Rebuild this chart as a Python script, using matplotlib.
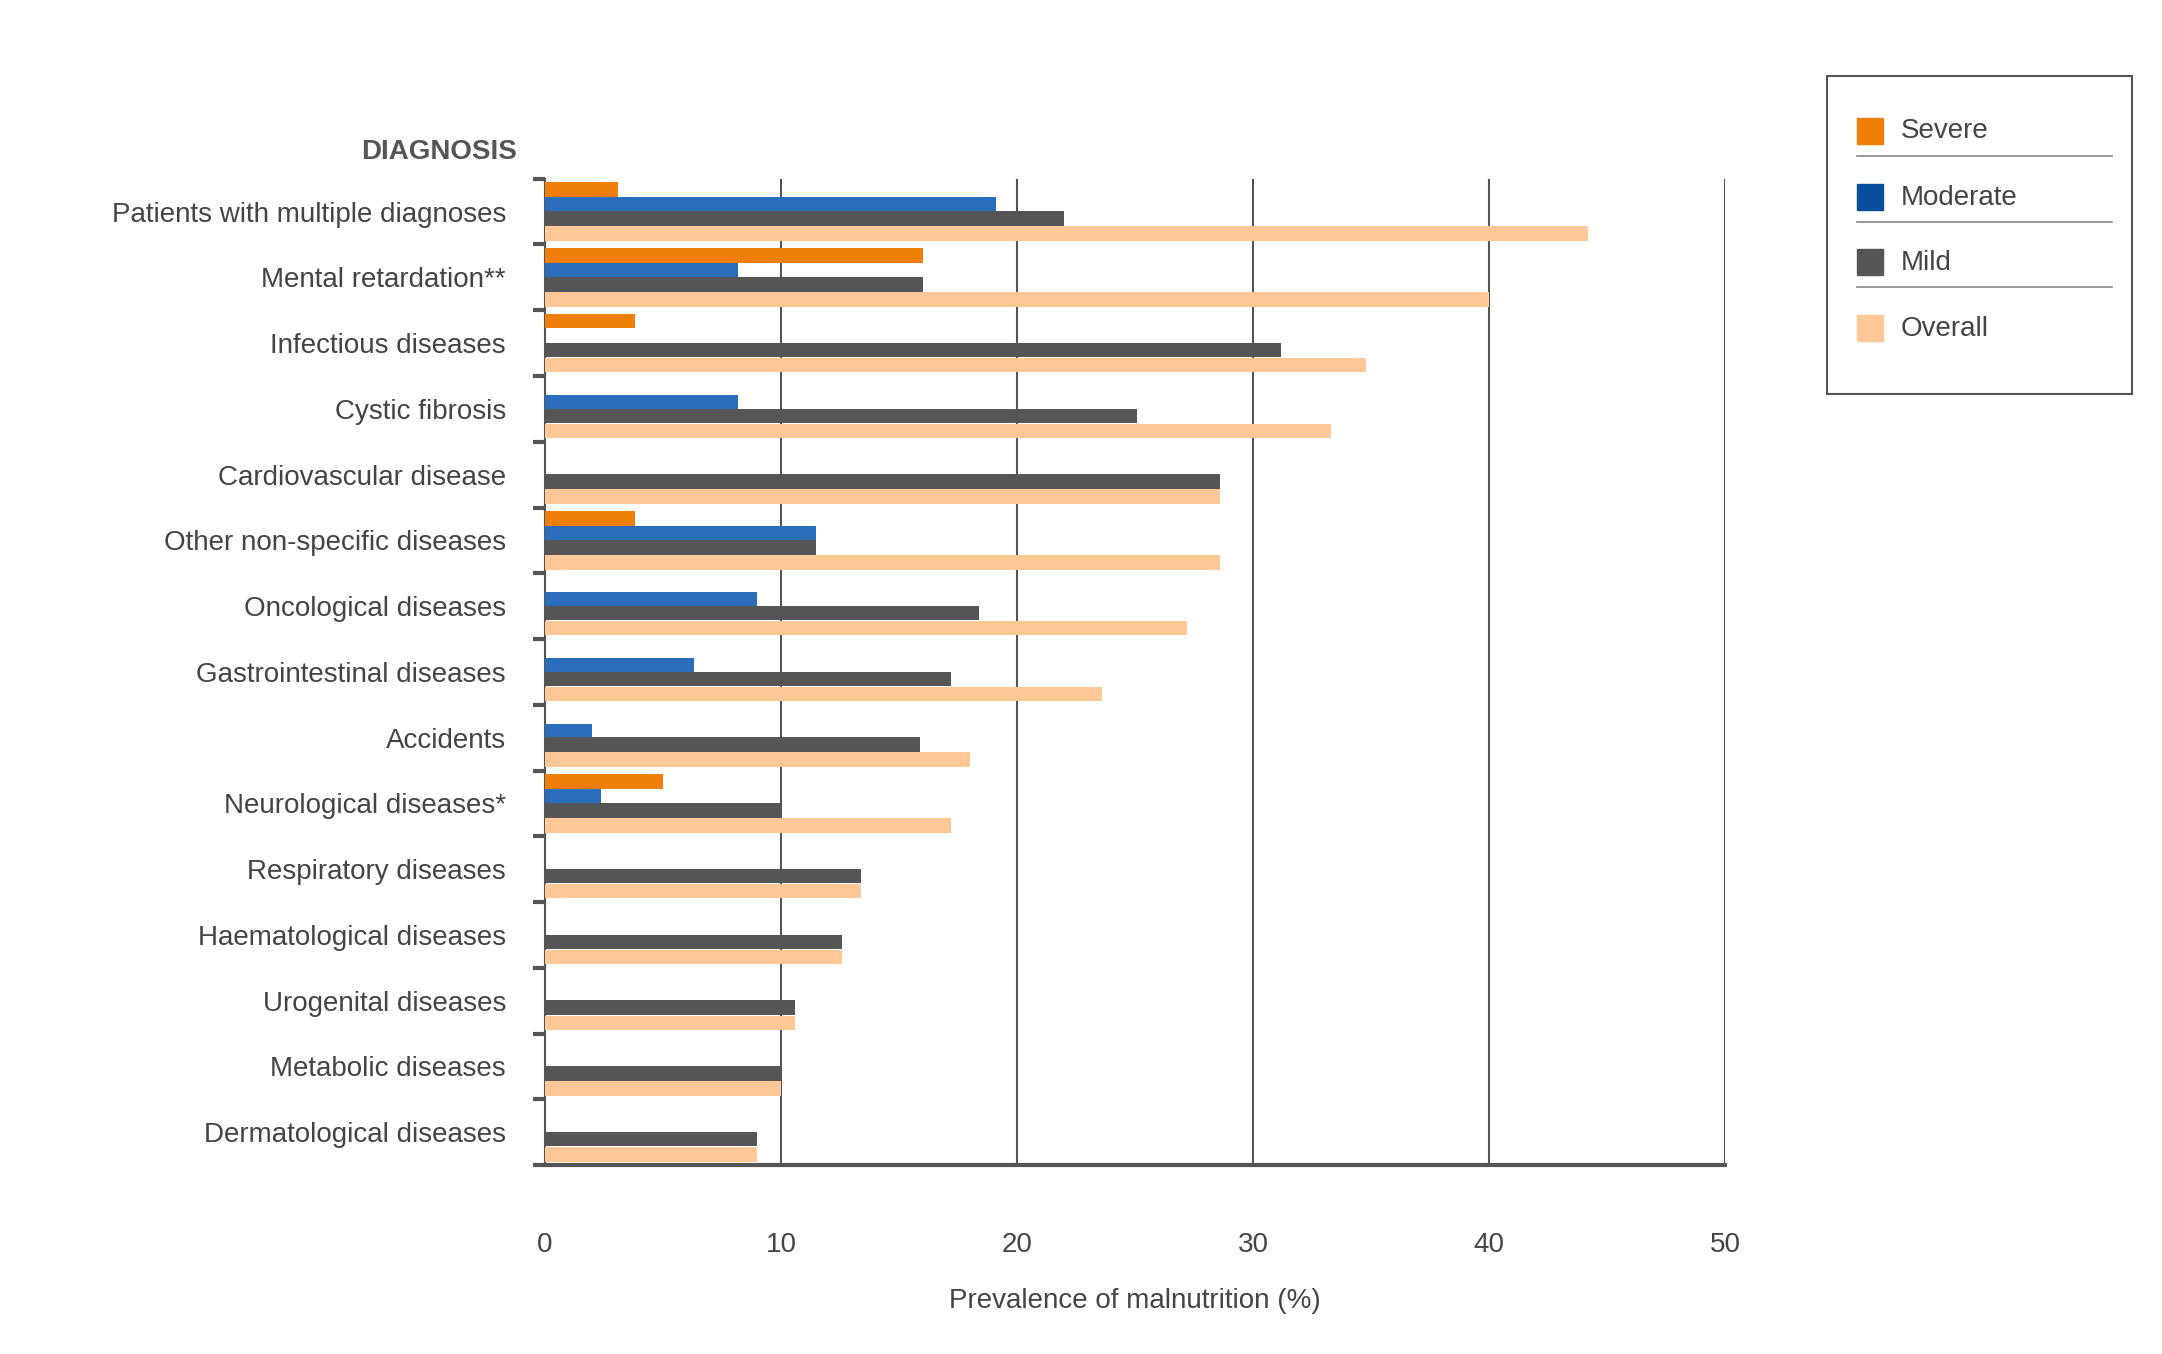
import numpy as np
import matplotlib.pyplot as plt
from matplotlib.patches import Rectangle
from matplotlib.lines import Line2D

plt.rcParams['font.family'] = ['Liberation Sans', 'DejaVu Sans']

categories = ["Patients with multiple diagnoses", "Mental retardation**", "Infectious diseases",
              "Cystic fibrosis", "Cardiovascular disease", "Other non-specific diseases",
              "Oncological diseases", "Gastrointestinal diseases", "Accidents",
              "Neurological diseases*", "Respiratory diseases", "Haematological diseases",
              "Urogenital diseases", "Metabolic diseases", "Dermatological diseases"]
severe = [3.1, 16.0, 3.8, 0, 0, 3.8, 0, 0, 0, 5.0, 0, 0, 0, 0, 0]
moderate = [19.1, 8.2, 0, 8.2, 0, 11.5, 9.0, 6.3, 2.0, 2.4, 0, 0, 0, 0, 0]
mild = [22.0, 16.0, 31.2, 25.1, 28.6, 11.5, 18.4, 17.2, 15.9, 10.0, 13.4, 12.6, 10.6, 10.0, 9.0]
overall = [44.2, 40.0, 34.8, 33.3, 28.6, 28.6, 27.2, 23.6, 18.0, 17.2, 13.4, 12.6, 10.6, 10.0, 9.0]

series = [("Severe", severe, "#F07F09", "#F07F09"),
          ("Moderate", moderate, "#2A6EBB", "#0A4F9E"),
          ("Mild", mild, "#555555", "#555555"),
          ("Overall", overall, "#FFC896", "#FFC896")]
offsets = [-0.335, -0.105, 0.105, 0.335]

fig = plt.figure(figsize=(21.62, 13.54), dpi=100)
ax = fig.add_axes([0.252, 0.1395, 0.546, 0.7285])
y = np.arange(len(categories))
for (name, vals, col, _), off in zip(series, offsets):
    ax.barh(y + off, vals, height=0.22, color=col, zorder=3)

ax.set_xlim(0, 50)
ax.set_ylim(len(categories) - 0.5, -0.5)
ax.set_xticks([0, 10, 20, 30, 40, 50])
ax.tick_params(axis='x', length=0, pad=48, labelsize=20, labelcolor='#444444')
ax.set_yticks(y)
ax.set_yticklabels(categories)
ax.tick_params(axis='y', which='major', length=0, pad=28, labelsize=20, labelcolor='#444444')
ax.set_yticks(np.arange(-0.5, len(categories), 1), minor=True)
ax.tick_params(axis='y', which='minor', length=9, width=3, color='#555555')
ax.grid(axis='x', color='#555555', linewidth=1.5, zorder=0)
for s in ['top', 'right']:
    ax.spines[s].set_visible(False)
ax.spines['left'].set_color('#555555')
ax.spines['left'].set_linewidth(1.5)
ax.spines['bottom'].set_color('#555555')
ax.spines['bottom'].set_linewidth(3)
ax.set_xlabel("Prevalence of malnutrition (%)", fontsize=20, color='#444444', labelpad=22)

fig.text(0.239, 0.888, "DIAGNOSIS", fontsize=20, fontweight='bold', color='#555555', ha='right', va='center')

# legend box
fig.add_artist(Rectangle((0.845, 0.709), 0.141, 0.235, transform=fig.transFigure,
                         fill=False, edgecolor='#555555', linewidth=1.5))
ys = [0.903, 0.854, 0.806, 0.757]
for (name, _, _, lc), yy in zip(series, ys):
    fig.add_artist(Rectangle((0.859, yy - 0.009), 0.012, 0.019, transform=fig.transFigure,
                             color=lc))
    fig.text(0.879, yy, name, fontsize=20, color='#444444', va='center')
for yy in ys[:-1]:
    fig.add_artist(Line2D([0.859, 0.977], [yy - 0.018, yy - 0.018], transform=fig.transFigure,
                          color='#888888', linewidth=1.2))

fig.savefig("out.png", dpi=100)
